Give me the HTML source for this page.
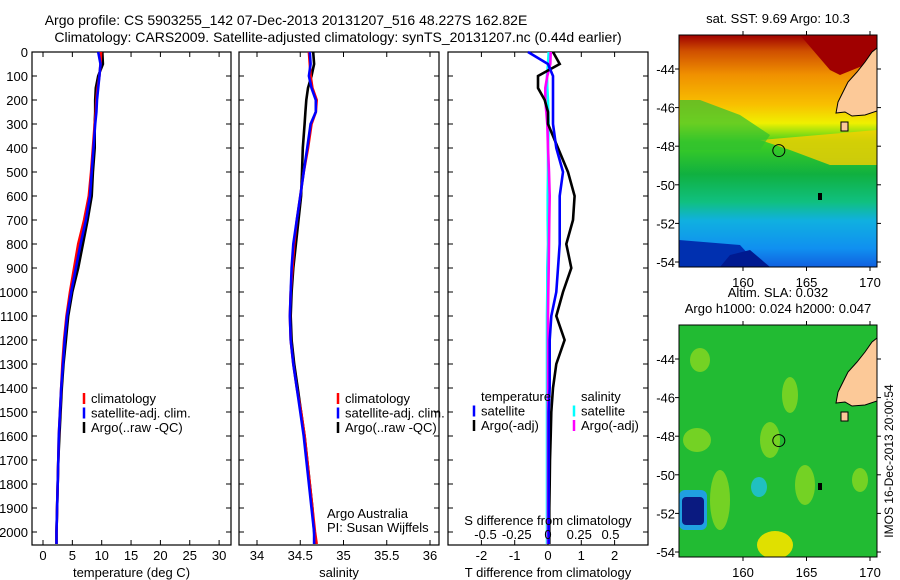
<!DOCTYPE html>
<html><head><meta charset="utf-8"><style>
html,body{margin:0;padding:0;background:#fff;}
svg{display:block;font-family:"Liberation Sans",Arial,sans-serif;}
</style></head><body>
<svg id="fig" width="900" height="580" viewBox="0 0 900 580">
<text x="286" y="25" font-size="14" text-anchor="middle">Argo profile: CS 5903255_142 07-Dec-2013 20131207_516 48.227S 162.82E</text>
<text x="338" y="42" font-size="14" text-anchor="middle">Climatology: CARS2009. Satellite-adjusted climatology: synTS_20131207.nc (0.44d earlier)</text>
<g id="maps"></g>
<g id="plots"></g>
</svg>
<script>
// depth levels (dbar)
const depths = [0,50,100,150,200,250,300,400,500,600,700,800,900,1000,1100,1200,1300,1400,1500,1600,1700,1800,1900,2000,2050];
// temperature (deg C)
const tempClim  = [9.9,9.8,9.6,9.3,9.1,9.0,8.8,8.5,8.2,7.8,7.0,6.0,5.3,4.6,4.0,3.6,3.3,3.1,2.9,2.7,2.6,2.5,2.4,2.3,2.3];
const tempSat   = [9.4,9.8,9.6,9.4,9.2,9.1,8.9,8.6,8.3,8.0,7.3,6.4,5.6,4.8,4.1,3.7,3.4,3.1,2.9,2.7,2.6,2.5,2.4,2.3,2.3];
const tempArgo  = [10.1,10.2,9.4,9.0,8.9,8.9,8.8,8.8,8.5,8.3,7.6,6.8,6.0,5.0,4.3,3.9,3.5,3.2,3.0,2.8,2.6,2.5,2.4,2.3,2.3];
// salinity
const salClim   = [34.60,34.61,34.62,34.64,34.69,34.68,34.63,34.59,34.54,34.50,34.46,34.43,34.41,34.39,34.38,34.39,34.42,34.46,34.51,34.55,34.58,34.61,34.64,34.67,34.69];
const salSat    = [34.61,34.62,34.60,34.63,34.68,34.68,34.62,34.58,34.54,34.50,34.46,34.42,34.40,34.39,34.38,34.39,34.42,34.46,34.50,34.54,34.57,34.60,34.63,34.66,34.66];
const salArgo   = [34.65,34.66,34.63,34.59,34.57,34.56,34.55,34.53,34.52,34.51,34.48,34.45,34.42,34.40,34.39,34.40,34.43,34.47,34.51,34.55,34.58,34.61,34.64,34.66,34.67];
// differences from climatology
const dTsat     = [-0.6,0.0,0.15,0.15,0.15,0.15,0.15,0.25,0.45,0.35,0.35,0.35,0.3,0.25,0.1,0.05,0.05,0.05,0.02,0.02,0.02,0.02,0.02,0.02,0.02];
const dTargo    = [0.15,0.35,-0.3,-0.3,-0.1,0.0,0.0,0.3,0.6,0.8,0.75,0.55,0.7,0.45,0.25,0.5,0.25,0.15,0.1,0.08,0.06,0.05,0.04,0.04,0.04];
const dSsat     = [0.02,0.0,-0.03,-0.02,0.0,0.01,0.02,0.0,0.0,-0.01,-0.01,0.0,-0.02,-0.02,-0.03,-0.03,-0.03,-0.03,-0.03,-0.03,-0.03,-0.03,-0.03,-0.03,-0.03];
const dSargo    = [0.08,0.07,-0.02,-0.08,-0.08,-0.05,-0.02,0.0,0.03,0.05,0.04,0.03,0.02,0.01,0.0,0.0,0.0,0.0,0.0,0.0,0.0,0.0,0.0,0.0,0.0];
const depthTicks = [0,100,200,300,400,500,600,700,800,900,1000,1100,1200,1300,1400,1500,1600,1700,1800,1900,2000];
const tempTicks = [0,5,10,15,20,25,30];
const salTicks = [34,34.5,35,35.5,36];
const dTTicks = [-2,-1,0,1,2];
const dSTicks = [-0.5,-0.25,0,0.25,0.5];

const NS='http://www.w3.org/2000/svg';
const plots=document.getElementById('plots');
function el(tag,attrs,parent,text){const e=document.createElementNS(NS,tag);for(const k in attrs)e.setAttribute(k,attrs[k]);if(text!==undefined)e.textContent=text;(parent||plots).appendChild(e);return e;}
const top0=52, bot=545;
const yD=d=>top0+d*0.24;

function panel(name,x0,x1,xs,ticks,xlabel,series){
  const g=el('g',{});
  
  
  const r=el('rect',{x:x0,y:top0,width:x1-x0,height:bot-top0,fill:'none',stroke:'#000','stroke-width':1.2},g);
  
  
  depthTicks.forEach(d=>{
    el('line',{x1:x0,x2:x0+5,y1:yD(d),y2:yD(d),stroke:'#000'},g);
    el('line',{x1:x1,x2:x1-5,y1:yD(d),y2:yD(d),stroke:'#000'},g);
  });
  ticks.forEach(t=>{
    el('line',{x1:xs(t),x2:xs(t),y1:bot,y2:bot-5,stroke:'#000'},g);
    el('line',{x1:xs(t),x2:xs(t),y1:top0,y2:top0+5,stroke:'#000'},g);
    const tx=el('text',{x:xs(t),y:560,'font-size':13,'text-anchor':'middle'},g,String(t));
    
    
  });
  const xl=el('text',{x:(x0+x1)/2,y:577,'font-size':13,'text-anchor':'middle'},g,xlabel);
  
  
  series.forEach(s=>{
    const pts=depths.map((d,i)=>xs(s.v[i]).toFixed(1)+','+yD(d).toFixed(1)).join(' ');
    const p=el('polyline',{points:pts,fill:'none',stroke:s.c,'stroke-width':2.6},g);
    
    
  });
  return g;
}
depthTicks.forEach(d=>{
  const t=el('text',{x:28,y:yD(d)+5,'font-size':13,'text-anchor':'end'},plots,String(d));
  
  
});
const xT=v=>43+v*5.87;
const xS=v=>257+(v-34)*86.5;
const xDT=v=>548+v*33.3;
const xDS=v=>548+v*125;
panel('temperature-panel',32,231,xT,tempTicks,'temperature (deg C)',[
  {v:tempArgo,c:'#000',n:'temp-argo-line'},{v:tempClim,c:'#f00',n:'temp-climatology-line'},{v:tempSat,c:'#00f',n:'temp-satellite-line'}]);
panel('salinity-panel',239,439,xS,salTicks,'salinity',[
  {v:salArgo,c:'#000',n:'sal-argo-line'},{v:salClim,c:'#f00',n:'sal-climatology-line'},{v:salSat,c:'#00f',n:'sal-satellite-line'}]);
const g3=panel('difference-panel',448,648,xDT,dTTicks,'T difference from climatology',[
  {v:dSsat,c:'#0ff',n:'sal-diff-satellite-line'},{v:dSargo,c:'#f0f',n:'sal-diff-argo-line'},{v:dTargo,c:'#000',n:'temp-diff-argo-line'},{v:dTsat,c:'#00f',n:'temp-diff-satellite-line'}]);
dSTicks.forEach(t=>{
  const tx=el('text',{x:xDS(t),y:539,'font-size':13,'text-anchor':'middle'},g3,String(t));
  
  
});
const sl=el('text',{x:548,y:525,'font-size':13,'text-anchor':'middle'},g3,'S difference from climatology');



function legend(x,y,items,name){
  items.forEach((it,i)=>{
    const yy=y+i*14.5;
    if(it.c){const l=el('line',{x1:x,x2:x,y1:yy-10,y2:yy+1,stroke:it.c,'stroke-width':2.5});}
    const t=el('text',{x:x+7,y:yy,'font-size':13},plots,it.t);
    
    
  });
}
legend(84,403,[{c:'#f00',t:'climatology'},{c:'#00f',t:'satellite-adj. clim.'},{c:'#000',t:'Argo(..raw -QC)'}],'temp-legend');
legend(338,403,[{c:'#f00',t:'climatology'},{c:'#00f',t:'satellite-adj. clim.'},{c:'#000',t:'Argo(..raw -QC)'}],'sal-legend');
legend(474,401,[{t:'temperature'},{c:'#00f',t:'satellite'},{c:'#000',t:'Argo(-adj)'}],'temp-diff-legend');
legend(574,401,[{t:'salinity'},{c:'#0ff',t:'satellite'},{c:'#f0f',t:'Argo(-adj)'}],'sal-diff-legend');
const a1=el('text',{x:327,y:518,'font-size':13},plots,'Argo Australia');

const a2=el('text',{x:327,y:532,'font-size':13},plots,'PI: Susan Wijffels');


// ---- maps ----
const maps=document.getElementById('maps');
const lonTicks=[160,165,170];
const latTicks=[-44,-46,-48,-50,-52,-54];
function mapFrame(name,y0,y1,latTop,latBot,titleLines,inner){
  const g=el('g',{},maps);
  
  
  const x0=679,x1=877;
  const xL=l=>743+(l-160)*12.7;
  const yL=l=>latTop+(l+44)*(latBot-latTop)/(-10);
  const cpth=el('clipPath',{id:name+'-clip'},g);
  el('rect',{x:x0,y:y0,width:x1-x0,height:y1-y0},cpth);
  const ig=el('g',{'clip-path':'url(#'+name+'-clip)'},g);
  inner(ig,x0,y0,x1,y1);
  el('rect',{x:x0,y:y0,width:x1-x0,height:y1-y0,fill:'none',stroke:'#000','stroke-width':1},g);
  lonTicks.forEach(l=>{
    el('line',{x1:xL(l),x2:xL(l),y1:y1,y2:y1+4,stroke:'#000'},g);
    el('line',{x1:xL(l),x2:xL(l),y1:y0,y2:y0-4,stroke:'#000'},g);
    const t=el('text',{x:xL(l),y:y1+20,'font-size':13,'text-anchor':'middle'},g,String(l));
    
  });
  latTicks.forEach(l=>{
    el('line',{x1:x0,x2:x0-4,y1:yL(l),y2:yL(l),stroke:'#000'},g);
    el('line',{x1:x1,x2:x1+4,y1:yL(l),y2:yL(l),stroke:'#000'},g);
    const t=el('text',{x:675,y:yL(l)+5,'font-size':13,'text-anchor':'end'},g,String(l));
    
  });
  titleLines.forEach((s,i)=>{
    const t=el('text',{x:778,y:y0-12-(titleLines.length-1-i)*16,'font-size':13,'text-anchor':'middle'},g,s);
    
  });
  el('circle',{cx:xL(162.82),cy:yL(-48.227),r:6,fill:'none',stroke:'#000'},g);
  return g;
}
function land(g,off){
  const p=el('polygon',{points:[[877,48],[872,52],[865,62],[857,72],[848,82],[843,92],[838,102],[836,113],[845,112],[852,116],[865,115],[877,111]].map(q=>q[0]+','+(q[1]+off)).join(' '),fill:'#fcc998',stroke:'#000','stroke-width':1},g);
  
  el('rect',{x:841,y:122+off,width:7,height:9,fill:'#fcc998',stroke:'#000'},g);
  el('rect',{x:818,y:193+off,width:4,height:7,fill:'#000'},g);
}
mapFrame('sst-map',35,267,69,262,['sat. SST: 9.69 Argo: 10.3'],(g,x0,y0,x1,y1)=>{
  const d=el('defs',{},g);
  const lg=el('linearGradient',{id:'sstg',x1:0,y1:0,x2:0,y2:1},d);
  [[0,'#a00000'],[0.07,'#d05000'],[0.17,'#f09000'],[0.3,'#f8c000'],[0.38,'#f0f000'],[0.46,'#40d020'],[0.6,'#10b040'],[0.72,'#10c080'],[0.8,'#10b0e0'],[0.92,'#1090f0'],[1,'#1060e0']].forEach(s=>el('stop',{offset:s[0],'stop-color':s[1]},lg));
  el('rect',{x:x0,y:y0,width:x1-x0,height:y1-y0,fill:'url(#sstg)'},g);
  el('polygon',{points:'760,140 877,130 877,165 830,165 790,150',fill:'#f8d000',opacity:0.8},g);
  el('polygon',{points:'680,100 700,100 740,115 770,135 760,150 680,150',fill:'#30c030',opacity:0.7},g);
  el('polygon',{points:'800,35 877,35 877,60 840,75 830,70',fill:'#a00000'},g);
  el('polygon',{points:'679,240 740,245 760,267 679,267',fill:'#0030b0'},g);
  el('polygon',{points:'730,255 750,250 770,267 720,267',fill:'#001a90'},g);
  land(g,0);
});
mapFrame('sla-map',325,557,359,552,['Altim. SLA: 0.032','Argo h1000: 0.024 h2000: 0.047'],(g,x0,y0,x1,y1)=>{
  el('rect',{x:x0,y:y0,width:x1-x0,height:y1-y0,fill:'#22bb33'},g);
  [[700,360,10,12],[790,395,8,18],[770,440,10,18],[697,440,14,12],[720,500,10,30],[805,485,10,20],[860,480,8,12]].forEach(b=>el('ellipse',{cx:b[0],cy:b[1],rx:b[2],ry:b[3],fill:'#8ad820',opacity:0.8},g));
  el('ellipse',{cx:775,cy:545,rx:18,ry:14,fill:'#e0e000'},g);
  el('ellipse',{cx:759,cy:487,rx:8,ry:10,fill:'#20c0c0'},g);
  el('rect',{x:679,y:490,width:28,height:40,rx:6,fill:'#20a0e0'},g);
  el('rect',{x:682,y:497,width:22,height:28,rx:4,fill:'#0a1a80'},g);
  land(g,290);
});
const im=el('text',{x:0,y:0,'font-size':12,'text-anchor':'middle',transform:'translate(893,461) rotate(-90)'},maps,'IMOS 16-Dec-2013 20:00:54');


</script>
</body></html>
